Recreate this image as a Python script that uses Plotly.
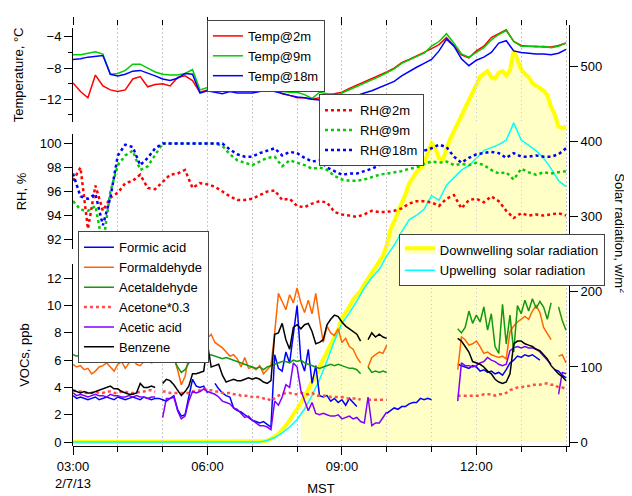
import pandas as pd
import plotly.graph_objects as go

DAY = "2013-02-07 "
FONT = "Liberation Sans, Arial, sans-serif"

# ---------------- time bases / tick labels ----------------
time_10min = pd.date_range(DAY + "03:00", DAY + "14:00", freq="10min")
time_5min = pd.date_range(DAY + "03:00", DAY + "14:00", freq="5min")
hour_ticks = list(pd.date_range(DAY + "03:00", DAY + "14:00", freq="h"))
major_ticks = [DAY + "03:00", DAY + "06:00", DAY + "09:00", DAY + "12:00"]
major_labels = ["03:00<br>2/7/13", "06:00", "09:00", "12:00"]

# ---------------- temperature (degC), 10-min ----------------
temp_2m = [-9.9, -11.0, -11.8, -8.9, -10.3, -10.8,
           -11.0, -10.8, -9.4, -9.1, -10.4, -10.1,
           -10.0, -10.3, -9.2, -9.0, -9.6, -11.1,
           -10.8, -10.8, -10.7, -10.7, -10.6, -10.5,
           -10.4, -10.3, -10.1, -10.7, -11.3, -11.5,
           -11.8, -11.8, -12.0, -11.8, -11.4, -11.3,
           -11.1, -10.6, -10.2, -9.8, -9.4, -8.9,
           -8.5, -8.0, -7.3, -6.9, -6.5, -6.0,
           -5.5, -5.0, -4.1, -5.1, -6.3, -6.7,
           -5.8, -5.2, -4.1, -3.6, -3.1, -4.6,
           -5.1, -5.2, -5.2, -5.3, -5.3, -5.1,
           -4.8]
temp_9m = [-6.3, -6.3, -6.1, -5.9, -6.2, -8.8,
           -8.7, -8.3, -7.5, -7.5, -8.0, -8.5,
           -8.8, -8.9, -8.9, -8.7, -8.2, -10.8,
           -10.5, -10.5, -10.4, -10.4, -10.3, -10.2,
           -10.1, -10.0, -9.8, -10.6, -11.0, -11.1,
           -11.1, -11.4, -11.9, -11.1, -11.3, -11.6,
           -11.2, -10.8, -10.3, -9.9, -9.5, -9.1,
           -8.6, -8.1, -7.4, -7.0, -6.6, -6.1,
           -5.2, -4.6, -3.6, -4.8, -6.2, -6.6,
           -6.0, -5.4, -4.4, -3.7, -3.2, -4.6,
           -5.2, -5.2, -5.3, -5.2, -5.4, -5.2,
           -4.8]
temp_18m = [-6.9, -6.8, -6.6, -6.5, -6.4, -8.8,
            -9.0, -8.8, -8.4, -8.3, -8.6, -9.0,
            -9.4, -9.6, -9.3, -8.7, -8.8, -11.2,
            -10.9, -11.1, -11.3, -11.0, -11.2, -11.2,
            -11.2, -11.0, -10.7, -11.0, -11.3, -11.5,
            -11.7, -11.8, -12.0, -12.1, -12.4, -12.5,
            -12.2, -11.9, -11.6, -11.2, -10.9, -10.5,
            -10.2, -9.7, -9.0, -8.4, -7.9, -7.4,
            -6.9, -5.8, -4.3, -5.2, -6.8, -7.7,
            -7.0, -6.6, -6.0, -4.8, -4.5, -5.8,
            -6.0, -6.1, -6.2, -6.2, -6.3, -6.1,
            -5.6]

# ---------------- relative humidity (%), 10-min ----------------
rh_2m = [96.9, 98.0, 92.9, 96.5, 94.4, 95.5,
         95.9, 96.7, 96.9, 97.4, 96.3, 96.2,
         96.8, 97.4, 97.5, 97.8, 96.3, 96.7,
         96.6, 96.4, 96.0, 95.6, 95.3, 95.3,
         95.4, 95.7, 96.0, 96.1, 95.3, 95.4,
         94.8, 94.7, 95.0, 95.2, 95.1, 94.3,
         94.1, 94.0, 93.9, 94.1, 94.4, 94.3,
         94.3, 94.4, 94.6, 95.0, 95.2, 95.2,
         95.1, 94.8, 95.4, 95.7, 94.6, 95.3,
         95.4, 95.1, 95.6, 95.2, 94.4, 93.8,
         94.2, 94.0, 94.1, 94.0, 94.1, 94.2,
         94.0]
rh_9m = [95.2, 94.5, 94.4, 94.8, 91.5, 96.0,
         98.2, 99.0, 99.4, 97.8, 98.1, 99.1,
         100.0, 100.0, 100.0, 100.0, 100.0, 100.0,
         100.0, 100.0, 99.8, 99.1, 98.6, 98.4,
         98.2, 98.5, 98.8, 98.9, 98.1, 98.6,
         98.4, 98.2, 97.9, 98.0, 97.8, 97.3,
         97.0, 96.9, 96.9, 97.0, 97.2, 97.4,
         97.5, 97.6, 97.7, 97.9, 98.0, 98.3,
         98.5, 98.4, 98.5, 98.2, 98.3, 98.2,
         98.4, 98.2, 97.8, 97.5, 97.6, 97.0,
         97.9, 97.6, 97.4, 97.6, 97.5, 97.6,
         97.7]
rh_18m = [97.5, 95.6, 95.4, 95.8, 93.2, 95.5,
          99.0, 99.9, 99.7, 98.2, 98.8, 99.6,
          100.0, 100.0, 100.0, 100.0, 100.0, 100.0,
          100.0, 100.0, 100.0, 99.5, 99.1, 98.9,
          98.9, 99.2, 99.4, 99.6, 99.0, 99.3,
          99.2, 98.8, 98.5, 98.6, 98.0, 97.7,
          97.4, 97.5, 97.5, 97.7, 97.9, 98.2,
          98.4, 98.6, 98.8, 99.0, 99.2, 99.4,
          99.6, 99.9, 99.7, 98.9, 98.4, 98.8,
          99.1, 99.2, 99.3, 99.2, 98.8, 99.2,
          98.9, 98.9, 99.0, 98.9, 98.9, 99.1,
          99.6]

# ---------------- solar radiation (W/m2) ----------------
solar_up = [0, 0, 0, 0, 0, 0,
            0, 0, 0, 0, 0, 0,
            0, 0, 0, 0, 0, 0,
            0, 0, 0, 0, 0, 0,
            0, 0, 2, 6, 12, 20,
            30, 44, 62, 83, 108, 135,
            158, 172, 188, 205, 219, 230,
            248, 262, 280, 296, 302, 310,
            328, 322, 342, 352, 362, 368,
            378, 388, 392, 396, 402, 425,
            402, 395, 388, 378, 364, 348,
            340]
solar_down = [0, 0, 0, 0, 0, 0, 0, 0, 0, 0, 0, 0,
              0, 0, 0, 0, 0, 0, 0, 0, 0, 0, 0, 0,
              0, 0, 0, 0, 0, 0, 0, 0, 0, 0, 0, 0,
              0, 0, 0, 0, 0, 0, 0, 0, 0, 0, 0, 0,
              0, 0, 0, 1, 2, 4, 7, 11, 16, 22, 29, 37,
              45, 52, 60, 70, 80, 90, 98, 108, 120, 130, 140, 150,
              165, 172, 180, 190, 196, 201, 210, 218, 224, 232, 240, 248,
              262, 283, 294, 305, 318, 330, 344, 352, 360, 364, 370, 385,
              398, 392, 378, 376, 390, 404, 414, 424, 436, 445, 456, 465,
              476, 487, 490, 494, 486, 484, 492, 494, 488, 495, 522, 508,
              496, 490, 486, 478, 475, 472, 468, 462, 446, 436, 420, 418,
              420]
FILL_START = 61  # shaded area begins at 08:05

# ---------------- VOCs (ppb), 5-min ----------------
formic_acid = [3.4, 3.2, 3.3, 3.2, 3.1, 3.2, 3.3, 3.1, 3.2, 3.3, 3.2, 3.1,
               3.3, 3.2, 3.1, 3.2, 3.3, 3.2, 3.1, 3.3, 3.2, 3.1, 3.2, 3.2,
               3.1, 3.0, 3.2, 3.4, 2.4, 1.9, 2.0, 3.4, 4.6, 4.1, 4.0, 4.1,
               3.6, None, 4.3, 3.9, 3.6, 3.4, 3.3, 2.5, 2.3, 2.2, 2.0, 1.8,
               1.6, 1.5, 1.4, 1.5, 1.3, 1.1, 6.4, 5.4, 5.2, 6.6, 5.8, 8.0,
               10.0, 6.0, 5.2, 6.8, 4.3, 5.6, 3.4, 3.3, 3.4, 3.0, 3.2, 2.9,
               3.1, 2.7, 3.2, 2.9, 2.6, None, None, None, None, None, None, None,
               2.1, 2.3, 2.5, 2.4, 2.6, 2.6, 2.8, 2.9, 2.9, 3.2, 3.1, 3.2,
               3.1, None, None, None, None, None, None, 5.7, 5.6, 5.5, 5.4, 5.6,
               5.5, 5.2, 5.3, 5.1, 5.2, 5.0, 5.1, 4.9, 5.3, 5.8, 6.0, 6.3,
               6.2, 6.4, 6.3, 6.4, 6.2, 6.0, None, None, None, 5.3, 5.2, 4.9,
               4.7]
formaldehyde = [5.7, 5.5, 5.6, 5.3, 5.4, 5.0, 5.2, 5.5, 5.6, 5.8, 5.5, 5.2,
                5.7, 5.9, 5.4, 5.8, 6.1, 5.7, 5.6, 5.9, 6.0, 5.8, 5.9, None,
                6.5, 6.2, 6.4, 6.2, 5.3, 4.2, 4.8, 6.3, 6.7, 6.6, 6.8, 6.9,
                7.6, 7.9, 7.3, 7.1, 6.9, 6.6, 6.3, 6.4, 6.1, 5.5, 6.2, 5.4,
                5.5, 5.3, 5.6, 5.0, 5.3, 5.6, 8.0, 10.9, 10.3, 9.7, 10.8, 10.2,
                11.3, 10.2, 9.5, 10.4, 9.4, 10.9, 9.0, 7.3, 8.5, 8.0, 7.8, 8.3,
                7.3, 7.6, 7.0, 6.8, 6.2, 5.8, None, 5.5, 6.2, 6.4, 6.6, 6.5,
                7.1, None, None, None, None, None, None, None, None, None, None, None,
                None, None, None, None, None, None, None, 5.3, 7.7, 7.5, 7.1, 7.2,
                7.4, 7.0, 6.5, 6.6, 6.4, 6.3, 6.2, 6.3, 6.1, 8.1, 8.5, 8.8,
                9.0, 9.2, 9.0, 9.6, 10.0, 9.5, 8.4, 7.9, 7.5, None, 6.3, 6.4,
                5.8]
acetaldehyde = [6.4, 6.3, 6.4, 6.2, 6.3, 6.1, 6.2, 6.0, 6.2, 6.1, 6.3, 6.2,
                6.0, 6.1, 6.2, 6.0, 6.1, 6.2, 6.0, 6.2, 6.3, 6.2, 6.3, None,
                6.2, 6.3, 6.2, 6.1, 5.5, 5.1, 5.3, 5.8, 6.0, 6.1, 6.2, 6.1,
                6.3, 6.4, 6.3, 6.2, 6.1, 6.2, 6.1, 6.0, 5.9, 5.8, 5.7, 5.6,
                5.5, 5.4, 5.5, 5.3, 5.5, 5.6, 5.7, 5.8, 5.9, 5.9, 5.8, 6.0,
                5.9, 6.0, 5.8, 5.7, 5.6, 5.5, 5.4, 5.5, 5.6, 5.7, 5.6, 5.7,
                5.6, 5.5, 5.4, 5.4, 5.3, 5.0, None, 5.5, 5.1, 5.2, 5.1, 5.2,
                5.1, None, None, None, None, None, None, None, None, None, None, None,
                None, None, None, None, None, None, None, 8.3, 8.0, 8.4, 9.6, 8.7,
                9.3, 8.8, 9.9, 8.2, 9.4, 7.0, 6.5, 10.1, 7.2, 9.3, 6.6, 10.0,
                9.4, 10.4, 9.6, 10.5, 9.8, 10.3, 9.9, 9.0, 10.2, None, 9.9, 8.9,
                8.2]
acetone_x03 = [3.8, 3.7, 3.7, 3.6, 3.6, 3.6, 3.7, 3.6, 3.6, 3.7, 3.7, 3.6,
               3.6, 3.7, 3.7, 3.6, 3.6, 3.6, 3.7, 3.7, 3.8, 3.8, 3.7, None,
               3.7, 3.7, 3.6, 3.6, 3.6, 3.6, 3.6, 3.6, 3.7, 3.7, 3.8, 3.9,
               3.8, 3.8, 3.7, 3.7, 3.6, 3.6, 3.6, 3.5, 3.5, 3.4, 3.4, 3.4,
               3.3, 3.3, 3.3, 3.2, 3.2, 3.0, 3.2, 3.4, 3.5, 3.6, 3.6, 3.5,
               3.5, 3.6, 3.5, 3.5, 3.6, 3.4, 3.4, 3.4, 3.4, 3.3, 3.3, 3.3,
               3.3, 3.2, 3.2, 3.2, 3.2, 3.1, None, 3.1, 3.1, 3.1, 3.1, 3.1,
               3.1, None, None, None, None, None, None, None, None, None, None, None,
               None, None, None, None, None, None, None, 3.4, 3.4, 3.4, 3.4, 3.4,
               3.4, 3.4, 3.5, 3.5, 3.5, 3.4, 3.5, 3.5, 3.6, 3.8, 3.9, 4.0,
               4.0, 4.1, 4.1, 4.2, 4.2, 4.2, 4.3, 4.3, 4.2, 4.2, 4.0, 4.0,
               3.9]
acetic_acid = [3.6, 3.4, 3.5, 3.4, 3.3, 3.4, 3.5, 3.4, 3.4, 3.3, 3.5, 3.4,
               3.4, 3.3, 3.3, 3.4, 3.3, 3.4, 3.3, 3.3, 3.2, 3.3, 3.3, None,
               1.8, 3.2, 3.2, 3.3, 2.3, 1.7, 1.9, 3.0, 3.7, 3.6, 3.7, 3.9,
               3.7, 3.6, 3.5, 3.3, 3.0, 2.9, 2.8, 2.5, 2.4, 2.1, 1.8, 1.9,
               1.6, 1.4, 1.2, 1.2, 1.1, 0.9, 3.0, 2.7, 3.3, 4.2, 4.0, 5.8,
               5.5, 3.8, 3.1, 2.3, 2.9, 2.1, 2.0, 2.1, 2.0, 1.9, 1.9, 2.0,
               1.7, 1.8, 1.9, 1.7, 1.8, 1.5, 1.4, 3.3, 1.2, 1.4, 1.4, 1.8,
               2.2, None, None, None, None, None, None, None, None, None, None, None,
               None, None, None, None, None, None, None, 3.0, 5.8, 5.6, 5.6, 5.5,
               5.6, 5.8, 5.9, 6.2, 6.0, 5.9, 5.7, 5.6, 5.7, 6.7, 6.9, 7.0,
               6.9, 7.0, 6.9, 6.9, 6.8, 6.6, 6.3, 6.0, 5.7, None, 3.5, 5.1,
               5.0]
benzene = [3.8, 3.7, 3.6, 3.7, 3.6, 3.6, 3.7, 3.8, 3.9, 4.0, 4.1, 3.9,
           3.9, 3.7, 3.6, 3.5, 3.5, 3.6, 4.3, 4.0, 4.0, 4.1, 4.0, None,
           4.3, 4.6, 4.5, 4.2, 3.8, 3.4, 3.7, 4.1, 5.0, 5.0, 5.1, 5.2,
           7.2, 5.5, 5.6, 5.7, 4.9, 4.4, 4.5, 4.6, 4.5, 4.5, 4.6, 4.7,
           4.6, 4.7, 4.6, 4.4, 4.3, 4.5, 7.9, 8.0, 8.7, 7.5, 6.8, 8.4,
           8.6, 8.3, 8.6, 8.7, 8.1, 7.2, 7.3, 7.5, 8.6, 9.0, 9.3, 9.2,
           8.8, 8.5, 8.3, 8.1, 7.9, 7.4, None, 7.5, 8.0, 7.7, 7.9, 7.7,
           7.6, None, None, None, None, None, None, None, None, None, None, None,
           None, None, None, None, None, None, None, 7.6, 7.4, 7.0, 6.6, 5.9,
           5.8, 5.7, 5.5, 5.2, 5.0, 4.6, 4.4, 4.3, 4.4, 5.0, 7.2, 7.4,
           7.4, 7.2, 7.1, 7.0, 6.8, 6.7, 6.4, 6.1, 5.6, 5.3, 5.0, 4.8,
           4.5]

# ---------------- figure ----------------
fig = go.Figure()

# solar radiation (right axis, full height, drawn underneath)
fig.add_trace(go.Scatter(x=time_5min[:FILL_START + 1], y=solar_down[:FILL_START + 1],
                         mode="lines", line=dict(color="#ffff00", width=4),
                         showlegend=False, legend="legend4", xaxis="x", yaxis="y",
                         hoverinfo="skip"))
fig.add_trace(go.Scatter(x=time_5min[FILL_START:], y=solar_down[FILL_START:],
                         mode="lines", fill="tozeroy", fillcolor="#ffffc6",
                         line=dict(color="#ffff00", width=4),
                         name="Downwelling solar radiation", legend="legend4",
                         xaxis="x", yaxis="y"))
fig.add_trace(go.Scatter(x=time_10min, y=solar_up, mode="lines",
                         line=dict(color="#00ffff", width=1.5),
                         name="Upwelling  solar radiation", legend="legend4",
                         xaxis="x", yaxis="y"))

# temperature
for name, vals, col in [("Temp@2m", temp_2m, "#ff0000"),
                        ("Temp@9m", temp_9m, "#00cc00"),
                        ("Temp@18m", temp_18m, "#0000ff")]:
    fig.add_trace(go.Scatter(x=time_10min, y=vals, mode="lines", name=name,
                             line=dict(color=col, width=1.5),
                             legend="legend", xaxis="x", yaxis="y2"))

# relative humidity
for name, vals, col in [("RH@2m", rh_2m, "#ff0000"),
                        ("RH@9m", rh_9m, "#00cc00"),
                        ("RH@18m", rh_18m, "#0000ff")]:
    fig.add_trace(go.Scatter(x=time_10min, y=vals, mode="lines", name=name,
                             line=dict(color=col, width=2.5, dash="dot"),
                             legend="legend2", xaxis="x", yaxis="y3"))

# VOCs
for name, vals, col, dash, w in [("Formic acid", formic_acid, "#0000ff", "solid", 1.5),
                                 ("Formaldehyde", formaldehyde, "#ff6600", "solid", 1.5),
                                 ("Acetaldehyde", acetaldehyde, "#119911", "solid", 1.5),
                                 ("Acetone*0.3", acetone_x03, "#ff4d4d", "dot", 2.5),
                                 ("Acetic acid", acetic_acid, "#7f00ff", "solid", 1.5),
                                 ("Benzene", benzene, "#000000", "solid", 1.5)]:
    fig.add_trace(go.Scatter(x=time_5min, y=vals, mode="lines", name=name,
                             line=dict(color=col, width=w, dash=dash),
                             connectgaps=False,
                             legend="legend3", xaxis="x", yaxis="y4"))

# invisible helper so the top (mirrored) time axis is drawn
fig.add_trace(go.Scatter(x=[time_5min[0]], y=[None], xaxis="x2", yaxis="y",
                         showlegend=False, hoverinfo="skip", mode="lines"))

X_RANGE = [DAY + "03:00", DAY + "14:04"]
GRID = "#c8c8c8"
GRID_DASH = "1px,3px"
tick_font = dict(family=FONT, size=13, color="black")

common_y = dict(ticks="outside", ticklen=8, tickcolor="black", showline=True,
                linecolor="black", linewidth=1, showgrid=False, zeroline=False,
                tickfont=tick_font, anchor="x")

legend_common = dict(bgcolor="white", bordercolor="#444444", borderwidth=1,
                     font=dict(family=FONT, size=13, color="black"),
                     itemwidth=30, tracegroupgap=0, xanchor="left")

# The page body adds an 8 px offset, so the figure is 8 px smaller than the window
fig.update_layout(
    width=624, height=488,
    template="none",
    margin=dict(l=65, r=63, t=12, b=50),
    paper_bgcolor="white", plot_bgcolor="rgba(0,0,0,0)",
    font=dict(family=FONT, size=13, color="black"),
    hovermode=False,
    xaxis=dict(type="date", range=X_RANGE, anchor="y", domain=[0, 1],
               tickmode="array", tickvals=major_ticks, ticktext=major_labels,
               ticks="outside", ticklen=8, tickcolor="black",
               showline=True, linecolor="black", linewidth=1,
               showgrid=True, gridcolor=GRID, griddash=GRID_DASH, gridwidth=1,
               zeroline=False, tickfont=tick_font,
               minor=dict(tickmode="array", tickvals=hour_ticks, ticks="outside",
                          ticklen=5, tickcolor="black", showgrid=True,
                          gridcolor=GRID, griddash=GRID_DASH, gridwidth=1),
               title=dict(text="MST", standoff=6, font=dict(family=FONT, size=13))),
    xaxis2=dict(type="date", range=X_RANGE, overlaying="x", side="top",
                anchor="free", position=1, showline=False, showgrid=False,
                zeroline=False, showticklabels=False,
                tickmode="array", tickvals=major_ticks, ticks="outside",
                ticklen=8, tickcolor="black",
                minor=dict(tickmode="array", tickvals=hour_ticks, ticks="outside",
                           ticklen=5, tickcolor="black", showgrid=False)),
    yaxis=dict(domain=[0, 1], range=[-5.26, 555.3], side="right",
               tickmode="array", tickvals=[0, 100, 200, 300, 400, 500],
               **common_y),
    yaxis2=dict(domain=[0.770, 0.993], range=[-14.89, -2.86], side="left",
                tickmode="array", tickvals=[-12, -8, -4],
                minor=dict(tickmode="array", tickvals=[-14, -10, -6],
                           ticks="outside", ticklen=4, tickcolor="black"),
                title=dict(text="Temperature, °C", standoff=12,
                           font=dict(family=FONT, size=13)),
                **common_y),
    yaxis3=dict(domain=[0.467, 0.742], range=[91.19, 100.82], side="left",
                tickmode="array", tickvals=[92, 94, 96, 98, 100],
                title=dict(text="RH, %", standoff=10,
                           font=dict(family=FONT, size=13)),
                **common_y),
    yaxis4=dict(domain=[0, 0.432], range=[-0.29, 13.04], side="left",
                tickmode="array", tickvals=[0, 2, 4, 6, 8, 10, 12],
                title=dict(text="VOCs, ppb", standoff=14,
                           font=dict(family=FONT, size=13)),
                **common_y),
    legend=dict(x=0.270, y=1.012, yanchor="top", **legend_common),
    legend2=dict(x=0.496, y=0.750, yanchor="middle", **legend_common),
    legend3=dict(x=0.010, y=0.353, yanchor="middle", **legend_common),
    legend4=dict(x=0.657, y=0.441, yanchor="middle", **legend_common),
    annotations=[dict(text="Solar radiation, w/m<sup>2</sup>", xref="paper", yref="paper",
                      x=1.103, y=0.505, xanchor="center", yanchor="middle",
                      textangle=90, showarrow=False,
                      font=dict(family=FONT, size=13, color="black"))],
)

fig.write_html("out.html")
